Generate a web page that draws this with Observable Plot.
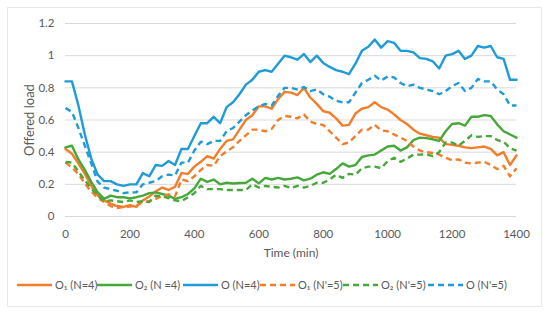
<!DOCTYPE html>
<html>
<head>
<meta charset="utf-8">
<script src="https://cdn.jsdelivr.net/npm/d3@7"></script>
<script src="https://cdn.jsdelivr.net/npm/@observablehq/plot@0.6"></script>
<style>
  html, body { margin: 0; padding: 0; background: #fff; }
  #wrap { position: relative; width: 550px; height: 320px; font-family: Lato, "Open Sans", sans-serif; color: #595959; }
  #frame { position: absolute; left: 7px; top: 7px; width: 535px; height: 300px; border: 1px solid #e8e8e8; box-sizing: border-box; }
  #chart { position: absolute; left: 0; top: 0; }
  #legend { position: absolute; left: 0; top: 276px; }
</style>
</head>
<body>
<div id="wrap"><div id="frame"></div><div id="chart"></div><div id="legend"></div></div>
<script>
// Time (min), 20-minute steps
const time = d3.range(0, 1401, 20);

const o1_N4 = [0.42,0.39,0.33,0.265,0.19,0.13,0.10,0.08,0.065,0.06,0.07,0.06,0.10,0.125,0.155,0.18,0.165,0.185,0.27,0.265,
  0.31,0.34,0.375,0.36,0.42,0.47,0.48,0.54,0.60,0.63,0.685,0.685,0.67,0.73,0.775,0.77,0.755,0.80,0.74,0.70,
  0.655,0.645,0.61,0.565,0.57,0.64,0.67,0.68,0.71,0.68,0.665,0.635,0.60,0.575,0.54,0.515,0.505,0.495,0.49,0.45,
  0.445,0.44,0.43,0.425,0.43,0.435,0.42,0.38,0.40,0.32,0.38];

const o2_N4 = [0.43,0.44,0.355,0.29,0.215,0.15,0.11,0.13,0.12,0.12,0.113,0.12,0.13,0.145,0.15,0.14,0.13,0.11,0.12,0.14,
  0.175,0.235,0.215,0.23,0.20,0.21,0.205,0.208,0.21,0.235,0.206,0.24,0.23,0.24,0.23,0.235,0.243,0.225,0.235,0.26,
  0.275,0.265,0.295,0.33,0.31,0.32,0.37,0.38,0.385,0.41,0.435,0.44,0.41,0.43,0.475,0.49,0.487,0.48,0.47,0.53,
  0.575,0.58,0.565,0.62,0.62,0.63,0.625,0.573,0.53,0.51,0.49];

const o_N4 = [0.84,0.84,0.69,0.51,0.36,0.26,0.22,0.22,0.20,0.19,0.20,0.20,0.27,0.25,0.32,0.315,0.345,0.32,0.42,0.42,
  0.50,0.58,0.58,0.62,0.58,0.68,0.71,0.76,0.82,0.85,0.90,0.91,0.90,0.95,1.0,0.99,0.975,1.01,0.96,1.0,
  0.955,0.93,0.91,0.90,0.885,0.95,1.03,1.055,1.10,1.05,1.09,1.08,1.03,1.03,1.02,0.985,0.98,0.965,0.92,1.0,
  1.01,1.03,0.98,1.0,1.06,1.05,1.06,0.99,0.98,0.85,0.85];

const o1_N5 = [0.335,0.305,0.265,0.205,0.155,0.115,0.09,0.065,0.052,0.06,0.062,0.067,0.09,0.095,0.11,0.128,0.138,0.125,0.23,0.22,
  0.25,0.29,0.32,0.315,0.375,0.405,0.43,0.47,0.505,0.54,0.54,0.53,0.545,0.60,0.625,0.62,0.61,0.635,0.59,0.575,
  0.57,0.53,0.49,0.45,0.46,0.50,0.54,0.54,0.57,0.535,0.53,0.51,0.49,0.47,0.435,0.41,0.40,0.395,0.385,0.365,
  0.35,0.355,0.335,0.33,0.335,0.34,0.32,0.295,0.315,0.25,0.30];

const o2_N5 = [0.34,0.335,0.28,0.225,0.175,0.13,0.095,0.10,0.095,0.09,0.10,0.09,0.095,0.09,0.13,0.125,0.115,0.10,0.095,0.12,
  0.145,0.19,0.17,0.17,0.17,0.165,0.165,0.165,0.165,0.20,0.18,0.19,0.185,0.18,0.19,0.177,0.19,0.18,0.19,0.21,
  0.21,0.23,0.26,0.24,0.265,0.26,0.30,0.31,0.31,0.30,0.345,0.365,0.34,0.36,0.385,0.385,0.386,0.375,0.40,0.46,
  0.46,0.44,0.47,0.505,0.495,0.50,0.50,0.475,0.465,0.425,0.41];

const o_N5 = [0.675,0.65,0.55,0.44,0.33,0.215,0.18,0.17,0.16,0.145,0.15,0.15,0.20,0.21,0.22,0.25,0.26,0.255,0.335,0.335,
  0.41,0.465,0.45,0.47,0.47,0.53,0.55,0.59,0.63,0.66,0.685,0.70,0.69,0.75,0.80,0.80,0.79,0.805,0.78,0.79,
  0.76,0.745,0.72,0.71,0.71,0.77,0.83,0.85,0.875,0.845,0.87,0.865,0.83,0.81,0.82,0.80,0.79,0.78,0.76,0.78,
  0.81,0.83,0.78,0.80,0.855,0.84,0.84,0.79,0.76,0.69,0.69];

const seriesNames = ["O\u2081 (N=4)", "O\u2082 (N =4)", "O (N=4)", "O\u2081 (N'=5)", "O\u2082 (N'=5)", "O (N'=5)"];
const seriesValues = [o1_N4, o2_N4, o_N4, o1_N5, o2_N5, o_N5];
const seriesColors = ["#f47d2a", "#47a83a", "#1f9bd8", "#f47d2a", "#47a83a", "#1f9bd8"];
const seriesDashed = [false, false, false, true, true, true];

const xTicks = [0, 200, 400, 600, 800, 1000, 1200, 1400];
const yTicks = [0, 0.2, 0.4, 0.6, 0.8, 1, 1.2];

const DASH = "6,4";
const font = 'Lato, "Open Sans", sans-serif';

const marks = [
  Plot.ruleY(yTicks, {stroke: "#d9d9d9", strokeWidth: 1}),
  Plot.axisY({ticks: yTicks, tickSize: 0, tickPadding: 11, label: null, tickFormat: d => String(d), fontSize: 11.5}),
  Plot.axisX({ticks: xTicks, tickSize: 0, tickPadding: 13, label: null, tickFormat: d => String(d), fontSize: 11.5}),
  Plot.text(["Offered load"], {frameAnchor: "left", textAnchor: "middle", lineAnchor: "middle", rotate: -90, dx: -36, fontSize: 13, fill: "#595959"}),
  Plot.text(["Time (min)"], {frameAnchor: "bottom", textAnchor: "middle", lineAnchor: "middle", dy: 37, fontSize: 12, fill: "#595959"})
];

seriesValues.forEach((vals, i) => {
  const data = time.map((t, j) => ({t, v: vals[j]}));
  marks.push(Plot.line(data, {
    x: "t", y: "v",
    stroke: seriesColors[i],
    strokeWidth: 2.4,
    strokeDasharray: seriesDashed[i] ? DASH : null,
    strokeLinejoin: "round",
    strokeLinecap: seriesDashed[i] ? "butt" : "round"
  }));
});

const chart = Plot.plot({
  width: 550,
  height: 270,
  marginLeft: 65,
  marginRight: 34,
  marginTop: 23,
  marginBottom: 54,
  style: {fontFamily: font, fontSize: "12px", color: "#595959", background: "transparent"},
  x: {domain: [0, 1400]},
  y: {domain: [0, 1.2]},
  marks
});
document.getElementById("chart").appendChild(chart);

// Legend: one entry per series, laid out left to right
const lg = d3.select("#legend").append("svg").attr("width", 550).attr("height", 22)
  .style("font-family", font).style("font-size", "11px");
const itemStarts = [17, 97, 183, 260, 343, 428];
seriesNames.forEach((name, i) => {
  const g = lg.append("g").attr("transform", `translate(${itemStarts[i]},0)`);
  g.append("line").attr("x1", 0).attr("x2", 35).attr("y1", 9).attr("y2", 9)
    .attr("stroke", seriesColors[i]).attr("stroke-width", 2.6)
    .attr("stroke-dasharray", seriesDashed[i] ? DASH : null);
  g.append("text").attr("x", 38).attr("y", 9).attr("dy", "0.35em")
    .attr("fill", "#595959").text(name);
});
</script>
</body>
</html>
